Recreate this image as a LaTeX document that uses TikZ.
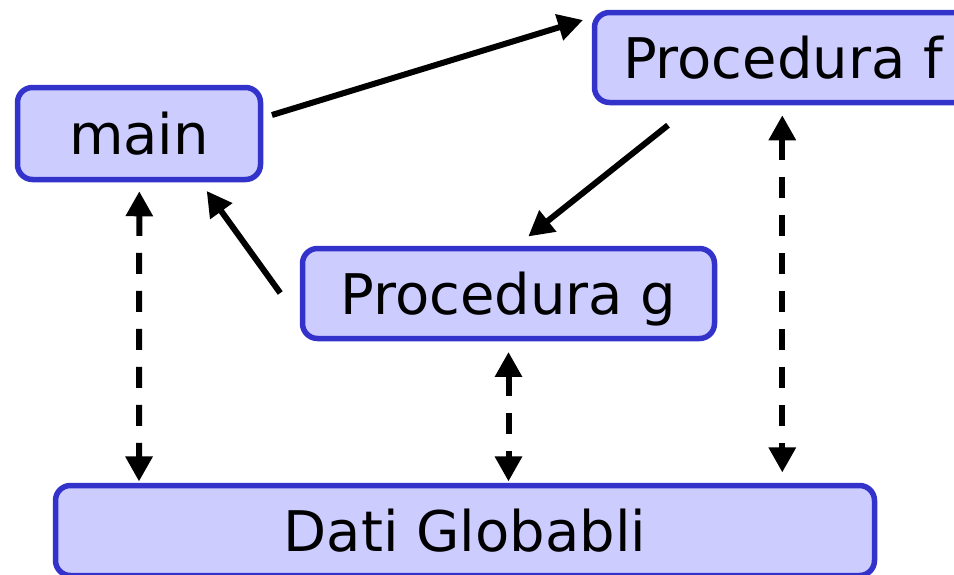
\documentclass[tikz,border=0pt]{standalone}
\usepackage{fontspec}
\setmainfont{DejaVu Sans}
\usepackage{tikz}
\usetikzlibrary{arrows.meta,positioning}
\usepackage{xcolor}
\definecolor{procblue}{HTML}{3333CC}
\definecolor{proclight}{HTML}{CCCCFF}

\begin{document}
\begin{tikzpicture}[
    x=1pt, y=-1pt,
    box/.style={rectangle, draw=procblue, fill=proclight, line width=5.5pt, rounded corners=15pt, inner sep=0pt, text depth=0pt, align=center, font=\fontsize{56}{60}\selectfont},
    arr/.style={-{Triangle[length=25pt, width=26pt]}, line width=6pt, black},
    dasharr/.style={{Triangle[length=25pt, width=26pt]}-{Triangle[length=25pt, width=26pt]}, line width=6pt, black, dash pattern=on 21pt off 17pt}
]
\useasboundingbox (0,0) rectangle (954,574);
\node[box, minimum width=243pt, minimum height=92pt] (main) at (139,133.5) {main};
\node[box, minimum width=377pt, minimum height=90pt] (pf) at (783,57.5) {Procedura f};
\node[box, minimum width=412pt, minimum height=90pt] (pg) at (508.5,293.5) {Procedura g};
\node[box, minimum width=819pt, minimum height=90pt] (dati) at (465,530.5) {Dati Globabli};
% chiamate
\draw[arr] ([shift={(8.7,-18.5)}]main.east) -- ([shift={(-8.7,-37.5)}]pf.west);
\draw[arr] ([shift={(-115,20)}]pf.south) -- ([shift={(19.8,-9.3)}]pg.north);
\draw[arr] ([shift={(-19.5,-0.5)}]pg.west) -- ([shift={(67.7,8.7)}]main.south);
% accesso ai dati
\draw[dasharr] ([shift={(0.3,9)}]main.south) -- ([shift={(0,-1.3)}]main.south |- dati.north);
\draw[dasharr] ([shift={(0,10.7)}]pg.south) -- ([shift={(0,-1.3)}]pg.south |- dati.north);
\draw[dasharr] ([shift={(-0.7,10)}]pf.south) -- ([shift={(-0.7,-10.3)}]pf.south |- dati.north);
\end{tikzpicture}
\end{document}
